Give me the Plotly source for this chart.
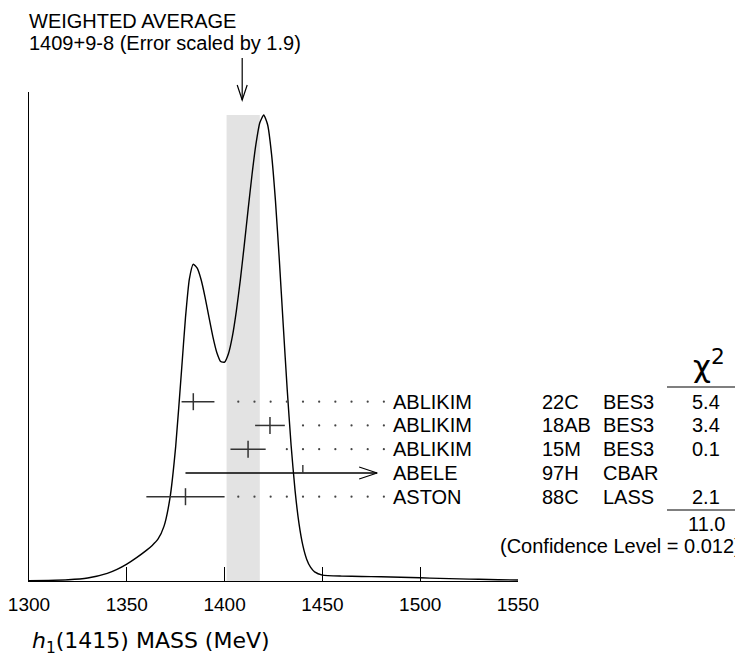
import numpy as np
import plotly.graph_objects as go

# ---------------- data ----------------
names = ["ABLIKIM", "ABLIKIM", "ABLIKIM", "ABELE", "ASTON"]
refs = ["22C", "18AB", "15M", "97H", "88C"]
exps = ["BES3", "BES3", "BES3", "CBAR", "LASS"]
values = [1384.0, 1423.2, 1412.0, 1440.0, 1380.0]
err_lo = [6.0, 7.6, 9.0, 60.0, 20.0]
err_hi = [10.8, 7.6, 9.0, 60.0, 20.0]
chi2 = ["5.4", "3.4", "0.1", "", "2.1"]
chi2_total = "11.0"
conf_level = "0.012"

avg_value = 1409
avg_err_hi = 9
avg_err_lo = 8
scale_factor = 1.9

# ideogram curve (arbitrary height units)
curve_x = [1300, 1310, 1320, 1330, 1340, 1345, 1350, 1355, 1360, 1363, 1366, 1369,
           1372, 1375, 1378, 1380, 1382, 1384, 1386, 1388, 1390, 1392, 1394, 1396,
           1398, 1400, 1402, 1404, 1406, 1408, 1410, 1412, 1414, 1416, 1418, 1420,
           1422, 1424, 1426, 1428, 1430, 1432, 1434, 1436, 1438, 1440, 1442, 1444,
           1446, 1450, 1460, 1470, 1480, 1490, 1500, 1510, 1520, 1530, 1540, 1550]
curve_h = [0.3, 0.6, 1.2, 3.0, 7.7, 11.7, 17.0, 23.5, 30.8, 35.8, 42.3, 54.9,
           82.5, 135.4, 212.2, 264.8, 303.9, 318.6, 314.5, 302.9, 285.5, 265.3, 245.7, 229.8,
           220.7, 220.1, 228.8, 246.2, 271.4, 302.1, 336.8, 373.2, 408.3, 439.0, 460.8, 468.6,
           458.8, 429.3, 382.2, 322.2, 256.6, 192.8, 136.5, 91.4, 58.2, 35.8, 21.7, 13.6,
           9.2, 5.9, 4.9, 4.6, 4.2, 3.7, 3.2, 2.6, 2.1, 1.7, 1.3, 1.0]

tick_vals = [1300, 1350, 1400, 1450, 1500, 1550]
x_title = "<i>h</i><sub>1</sub>(1415) MASS (MeV)"

# ---------------- layout constants (reference pixels) ----------------
W, H = 743, 661
OFF = 8                   # page body margin
FW, FH = W - OFF, H - OFF
PL, PR = 29, 518          # plot area left/right px
PT, PB = 92, 581          # plot area top/bottom px
PW, PH = PR - PL, PB - PT
XMIN, XMAX = 1300, 1550
PEAK_PX = 466             # height of ideogram peak above axis
ROW_Y0 = 179.3            # first row height above axis (px)
ROW_STEP = 23.75
DOT_START, DOT_STEP, DOT_N = 1407.0, 8.27, 10
DOT_GAP = 5.5
ARROW_TIP = 1478.0
FONT = "Liberation Sans, Arial, Helvetica, sans-serif"
FS = 20
BAR_COLOR = "#333333"


def px_x(px):
    return (px - PL) / PW


def px_y(py):
    return (PB - py) / PH


mev_per_px = (XMAX - XMIN) / PW

fig = go.Figure()

# weighted-average band
fig.add_shape(type="rect", xref="x", yref="y", x0=avg_value - avg_err_lo, x1=avg_value + avg_err_hi,
              y0=0, y1=PEAK_PX, fillcolor="#e3e3e3", line_width=0, layer="below")

# ideogram curve
ch = np.array(curve_h)
fig.add_trace(go.Scatter(x=curve_x, y=ch * PEAK_PX / ch.max(), mode="lines",
                         line=dict(color="black", width=1.4, shape="spline", smoothing=0.5),
                         hoverinfo="skip"))

dots = DOT_START + DOT_STEP * np.arange(DOT_N)
dot_end = dots[-1]
tf = dict(family=FONT, size=FS, color="black")
for i, (v, lo, hi) in enumerate(zip(values, err_lo, err_hi)):
    y = ROW_Y0 - i * ROW_STEP
    xl, xh = v - lo, v + hi
    if xh > dot_end:
        # arrow (measurement extends beyond display)
        fig.add_trace(go.Scatter(x=[xl, ARROW_TIP], y=[y, y], mode="lines",
                                 line=dict(color="black", width=1.4), hoverinfo="skip"))
        hl = 18 * mev_per_px
        fig.add_trace(go.Scatter(x=[ARROW_TIP - hl, ARROW_TIP, ARROW_TIP - hl], y=[y + 6, y, y - 6],
                                 mode="lines", line=dict(color="black", width=1.2), hoverinfo="skip"))
        fig.add_trace(go.Scatter(x=[v, v], y=[y, y + 8], mode="lines",
                                 line=dict(color=BAR_COLOR, width=1.4), hoverinfo="skip"))
    else:
        fig.add_trace(go.Scatter(x=[xl, xh], y=[y, y], mode="lines",
                                 line=dict(color=BAR_COLOR, width=1.5), hoverinfo="skip"))
        fig.add_trace(go.Scatter(x=[v, v], y=[y - 8.5, y + 8.5], mode="lines",
                                 line=dict(color=BAR_COLOR, width=1.5), hoverinfo="skip"))
        dx = dots[dots >= xh + DOT_GAP]
        fig.add_trace(go.Scatter(x=dx, y=[y] * len(dx), mode="markers",
                                 marker=dict(color="#444444", size=2.2, line_width=0), hoverinfo="skip"))

    fig.add_annotation(x=px_x(391), y=y, xref="paper", yref="y", text=names[i], showarrow=False,
                       xanchor="left", yanchor="middle", font=tf)
    fig.add_annotation(x=px_x(540), y=y, xref="paper", yref="y", text=refs[i], showarrow=False,
                       xanchor="left", yanchor="middle", font=tf)
    fig.add_annotation(x=px_x(601), y=y, xref="paper", yref="y", text=exps[i], showarrow=False,
                       xanchor="left", yanchor="middle", font=tf)
    if chi2[i]:
        fig.add_annotation(x=px_x(706), y=y, xref="paper", yref="y", text=chi2[i], showarrow=False,
                           xanchor="center", yanchor="middle", font=tf)

# chi2 header and totals
fig.add_annotation(x=px_x(709), y=px_y(364), xref="paper", yref="paper", text="χ<sup>2</sup>",
                   showarrow=False, xanchor="center", yanchor="middle",
                   font=dict(family="DejaVu Sans, sans-serif", size=31, color="black"))
for ly in (387, 510):
    fig.add_shape(type="line", xref="paper", yref="paper", x0=px_x(667), x1=px_x(742),
                  y0=px_y(ly), y1=px_y(ly), line=dict(color="black", width=1.2))
fig.add_annotation(x=px_x(706), y=px_y(524), xref="paper", yref="paper", text=chi2_total,
                   showarrow=False, xanchor="center", yanchor="middle", font=tf)
fig.add_annotation(x=px_x(743), y=px_y(546), xref="paper", yref="paper",
                   text=f"(Confidence Level = {conf_level})",
                   showarrow=False, xanchor="right", yanchor="middle", font=tf)

# weighted average title and arrow
fig.add_annotation(x=px_x(27), y=px_y(21.5), xref="paper", yref="paper", text="WEIGHTED AVERAGE",
                   showarrow=False, xanchor="left", yanchor="middle", font=tf)
fig.add_annotation(x=px_x(27), y=px_y(43.5), xref="paper", yref="paper",
                   text=f"{avg_value}+{avg_err_hi}-{avg_err_lo} (Error scaled by {scale_factor})",
                   showarrow=False, xanchor="left", yanchor="middle", font=tf)
hw = 5 * mev_per_px
fig.add_shape(type="line", xref="x", yref="paper", x0=avg_value, x1=avg_value,
              y0=px_y(58), y1=px_y(100), line=dict(color="black", width=1.2))
fig.add_shape(type="path", xref="x", yref="paper",
              path=f"M {avg_value - hw},{px_y(85)} L {avg_value},{px_y(100)} L {avg_value + hw},{px_y(85)}",
              line=dict(color="black", width=1.2))

# x-axis title
fig.add_annotation(x=px_x(30), y=px_y(642), xref="paper", yref="paper", text=x_title,
                   showarrow=False, xanchor="left", yanchor="middle",
                   font=dict(family="DejaVu Sans, sans-serif", size=22, color="black"))

fig.update_layout(
    width=FW, height=FH,
    margin=dict(l=PL - OFF, r=FW - (PR - OFF), t=PT - OFF, b=FH - (PB - OFF), pad=0,
                autoexpand=False),
    paper_bgcolor="white", plot_bgcolor="white",
    showlegend=False, hovermode=False,
    xaxis=dict(range=[XMIN, XMAX], tickvals=tick_vals, ticks="inside", ticklen=14,
               tickwidth=1.2, tickcolor="black", showline=True, linecolor="black", linewidth=1.4,
               showgrid=False, zeroline=False, ticklabelstandoff=6, ticklabeloverflow="allow",
               automargin=False,
               tickfont=dict(family=FONT, size=19, color="black")),
    yaxis=dict(range=[0, PH], showline=True, linecolor="black", linewidth=1.4,
               showgrid=False, zeroline=False, showticklabels=False, ticks="", automargin=False),
)

fig.write_html("out.html")
